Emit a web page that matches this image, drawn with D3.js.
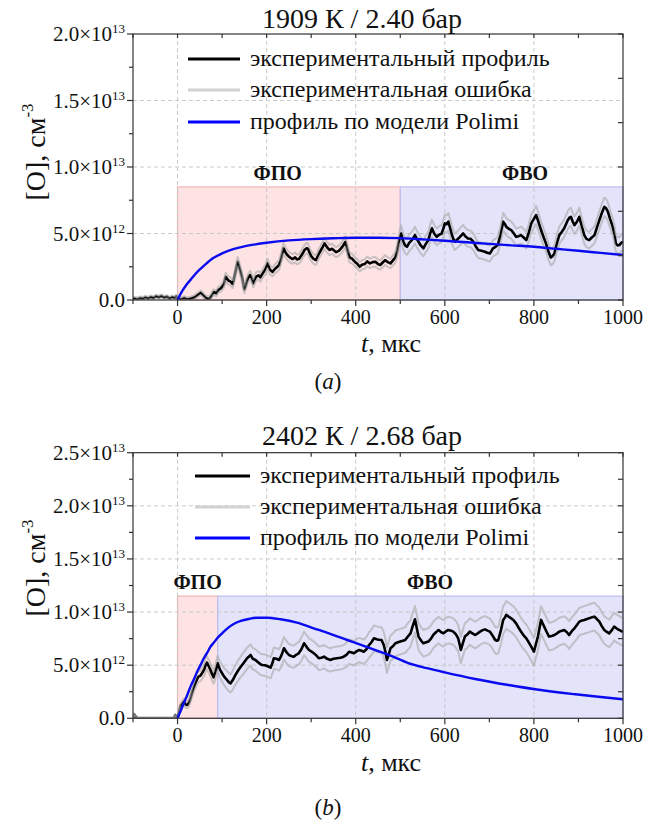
<!DOCTYPE html>
<html>
<head>
<meta charset="utf-8">
<script src="https://cdn.jsdelivr.net/npm/d3@7"></script>
<style>
  body { margin: 0; background: #fff; }
  svg { display: block; }
  text { font-family: "Liberation Serif", "Times New Roman", serif; fill: #111; }
</style>
</head>
<body>
<svg id="fig" width="662" height="822"></svg>
<script>
// ---- Data: [O] in units of 1e12 cm^-3, time in µs ----
// Experimental profile rows: [time, value, error half-width]
const profileA = [
  [-100,0.12,0.12],[-95,0.1,0.12],[-90,0.05,0.12],[-84,0.15,0.12],[-78,0.1,0.12],[-72,0.2,0.12],[-66,0.12,0.12],
  [-60,0.22,0.12],[-54,0.15,0.12],[-48,0.28,0.12],[-42,0.2,0.12],[-36,0.3,0.12],[-30,0.18,0.12],[-24,0.25,0.12],
  [-18,0.12,0.12],[-12,0.22,0.12],[-6,0.15,0.12],[-3,0.28,0.12],[0,0.1,0.12],[8,0.05,0.13],[15,0.15,0.13],
  [22,0.05,0.13],[30,0.12,0.14],[38,0.2,0.15],[45,0.38,0.16],[52,0.55,0.17],[58,0.35,0.17],[64,0.15,0.17],
  [70,0.05,0.18],[76,0.3,0.2],[81,0.6,0.2],[87,0.5,0.22],[91,0.75,0.22],[98,0.9,0.25],[104,1.2,0.27],
  [108,1.75,0.3],[113,1.5,0.3],[119,1.38,0.3],[124,1.2,0.3],[130,2.1,0.32],[135,2.88,0.35],[140,2.3,0.35],
  [145,1.7,0.33],[150,0.8,0.3],[154,1.2,0.3],[158,1.63,0.3],[163,1.88,0.32],[167,1.6,0.32],[170,1.25,0.3],
  [176,1.75,0.32],[182,1.85,0.32],[186,1.7,0.32],[191,2.0,0.33],[197,2.3,0.34],[202,2.75,0.35],[207,2.3,0.34],
  [213,2.12,0.33],[219,2.35,0.34],[224,2.5,0.35],[228,2.63,0.35],[233,3.2,0.37],[238,3.88,0.4],[242,3.6,0.38],
  [246,3.4,0.37],[252,3.2,0.36],[258,3.08,0.36],[264,3.2,0.36],[268,3.05,0.36],[273,3.1,0.36],[279,3.4,0.37],
  [285,3.76,0.38],[290,3.9,0.4],[293,3.85,0.4],[297,3.5,0.38],[300,3.3,0.37],[305,3.1,0.36],[311,3.0,0.36],
  [316,3.4,0.37],[322,3.76,0.38],[326,4.0,0.4],[330,4.26,0.42],[335,4.0,0.4],[341,3.76,0.38],[347,3.85,0.38],
  [352,3.7,0.38],[356,3.6,0.37],[362,3.7,0.38],[367,3.88,0.38],[372,4.1,0.4],[377,4.38,0.42],[381,3.8,0.4],
  [386,3.2,0.37],[392,3.1,0.36],[398,2.88,0.35],[404,2.7,0.35],[409,2.5,0.34],[414,2.65,0.35],[420,2.7,0.35],
  [426,2.9,0.36],[432,2.75,0.35],[438,2.85,0.36],[444,2.88,0.36],[450,2.7,0.35],[455,2.63,0.35],[460,2.8,0.36],
  [466,3.0,0.37],[472,2.85,0.36],[478,2.75,0.36],[484,3.0,0.37],[489,3.2,0.4],[493,3.7,0.45],[496,4.26,0.5],
  [499,4.7,0.55],[502,5.0,0.6],[505,4.6,0.6],[507,4.38,0.6],[511,4.1,0.6],[515,4.0,0.6],[520,4.3,0.62],
  [526,4.5,0.62],[530,4.7,0.62],[533,4.88,0.63],[537,4.6,0.62],[541,4.38,0.62],[546,4.1,0.6],[552,3.88,0.6],
  [557,4.2,0.62],[563,4.5,0.62],[567,5.0,0.64],[571,5.39,0.65],[576,5.0,0.64],[582,4.75,0.63],[587,4.9,0.64],
  [593,5.0,0.64],[597,5.4,0.65],[600,5.76,0.66],[604,5.7,0.66],[608,5.89,0.66],[612,5.4,0.65],[615,5.0,0.64],
  [619,4.6,0.63],[622,4.38,0.62],[628,4.55,0.62],[634,4.75,0.63],[638,4.9,0.64],[641,5.0,0.64],[646,4.8,0.63],
  [652,4.63,0.63],[658,4.6,0.62],[664,4.38,0.62],[670,4.0,0.6],[675,3.76,0.6],[682,3.7,0.6],[690,3.63,0.6],
  [695,3.55,0.6],[701,3.5,0.6],[705,3.7,0.6],[708,3.88,0.6],[714,4.0,0.6],[719,4.13,0.62],[725,4.9,0.64],
  [731,5.89,0.66],[735,5.7,0.66],[738,5.5,0.65],[744,5.35,0.65],[749,5.26,0.65],[755,5.0,0.64],[760,4.75,0.63],
  [766,4.8,0.63],[771,4.88,0.64],[777,4.7,0.63],[783,4.5,0.62],[788,5.0,0.64],[794,5.76,0.66],[800,6.1,0.67],
  [805,6.39,0.68],[810,5.9,0.67],[816,5.26,0.65],[822,4.7,0.63],[827,4.26,0.62],[833,3.6,0.6],[838,3.2,0.6],
  [842,3.3,0.6],[846,3.5,0.6],[851,4.2,0.62],[857,4.88,0.64],[862,5.1,0.64],[868,5.39,0.65],[872,5.7,0.66],
  [876,6.0,0.67],[880,6.2,0.67],[883,6.26,0.68],[887,5.9,0.67],[891,5.63,0.66],[897,5.9,0.67],[902,6.26,0.68],
  [907,5.6,0.66],[913,4.88,0.64],[918,4.6,0.63],[924,4.5,0.62],[930,4.7,0.63],[936,4.88,0.64],[941,5.4,0.65],
  [947,6.0,0.67],[952,6.5,0.68],[958,7.0,0.7],[962,6.9,0.7],[966,6.64,0.69],[971,6.1,0.67],[977,5.5,0.65],
  [981,4.9,0.64],[984,4.26,0.62],[988,4.1,0.62],[992,4.13,0.62],[996,4.3,0.62],[1000,4.38,0.62]
];
const profileB = [
  [-100,0.0,0.1],[-97,0.35,0.1],[-94,0.15,0.1],[-90,0.0,0.1],[-70,0.0,0.1],[-50,0.0,0.1],[-30,0.0,0.1],
  [-8,0.0,0.1],[-5,0.3,0.1],[-2,0.1,0.1],[0,0.0,0.15],[3,0.5,0.2],[7,1.2,0.25],[10,1.3,0.3],[14,1.57,0.3],
  [18,1.3,0.3],[22,1.25,0.3],[26,1.5,0.35],[29,1.88,0.35],[34,2.6,0.4],[40,3.29,0.45],[44,3.7,0.5],
  [47,3.92,0.5],[51,4.0,0.5],[55,4.24,0.55],[60,4.6,0.55],[63,5.0,0.6],[66,5.24,0.6],[70,4.9,0.6],
  [74,4.55,0.6],[78,4.1,0.6],[81,3.86,0.6],[85,4.4,0.65],[90,5.18,0.7],[95,4.6,0.75],[100,4.24,0.8],
  [105,3.9,0.8],[111,3.61,0.85],[115,3.4,0.85],[119,3.29,0.85],[124,3.6,0.9],[130,4.08,0.9],[136,4.5,0.95],
  [141,4.8,0.95],[145,5.02,1.0],[150,5.3,1.0],[156,5.65,1.0],[160,5.8,1.0],[164,5.96,1.0],[169,5.6,1.0],
  [175,5.49,1.0],[180,5.3,1.0],[186,5.1,1.0],[190,5.02,1.0],[196,5.0,1.0],[201,4.92,1.0],[205,4.85,1.0],
  [209,4.77,1.0],[213,5.2,1.0],[216,5.65,1.0],[222,5.6,1.0],[228,5.49,1.0],[233,5.9,1.05],[239,6.59,1.05],
  [245,6.2,1.05],[250,5.96,1.05],[256,5.85,1.05],[261,5.8,1.05],[267,6.0,1.05],[272,6.12,1.05],[278,6.5,1.1],
  [284,7.06,1.1],[290,6.7,1.1],[295,6.43,1.1],[300,6.3,1.1],[306,6.12,1.1],[312,5.9,1.1],[317,5.65,1.1],
  [323,5.7,1.1],[329,5.8,1.1],[336,5.6,1.1],[343,5.49,1.1],[350,5.6,1.1],[358,5.65,1.1],[366,5.7,1.1],
  [373,5.8,1.1],[380,6.0,1.15],[385,6.27,1.15],[391,6.2,1.15],[396,6.12,1.15],[402,6.3,1.15],[407,6.43,1.15],
  [413,6.35,1.15],[418,6.27,1.15],[424,6.5,1.15],[430,6.9,1.2],[436,7.2,1.2],[441,7.53,1.2],[447,7.45,1.2],
  [452,7.4,1.2],[458,7.37,1.2],[463,6.9,1.2],[467,6.2,1.2],[470,5.49,1.2],[474,6.0,1.2],[478,6.59,1.2],
  [484,6.8,1.2],[489,7.06,1.2],[495,7.15,1.2],[500,7.22,1.2],[506,7.3,1.2],[511,7.37,1.2],[517,7.7,1.25],
  [523,8.0,1.25],[528,8.7,1.25],[533,9.32,1.25],[537,8.5,1.25],[541,7.69,1.25],[547,7.3,1.25],[552,7.06,1.25],
  [558,7.15,1.25],[563,7.22,1.25],[569,7.5,1.25],[574,7.84,1.25],[580,8.1,1.25],[586,8.31,1.25],[592,8.1,1.25],
  [597,8.0,1.25],[603,8.2,1.25],[608,8.31,1.25],[614,8.25,1.25],[619,8.16,1.25],[625,7.9,1.25],[630,7.53,1.25],
  [633,7.0,1.25],[636,6.43,1.25],[640,7.0,1.25],[645,7.69,1.25],[651,7.9,1.25],[656,8.16,1.25],[662,8.0,1.25],
  [668,7.84,1.25],[674,8.0,1.25],[679,8.16,1.25],[685,8.3,1.25],[690,8.37,1.25],[696,8.25,1.25],[701,8.16,1.25],
  [707,7.8,1.25],[713,7.37,1.25],[717,7.3,1.25],[720,7.37,1.25],[726,8.3,1.3],[731,9.26,1.3],[735,9.5,1.3],
  [738,9.73,1.3],[744,9.55,1.3],[749,9.41,1.3],[755,9.2,1.3],[760,8.94,1.3],[766,8.5,1.3],[771,8.16,1.3],
  [777,7.8,1.3],[783,7.53,1.3],[789,7.1,1.3],[794,6.74,1.3],[800,6.27,1.3],[804,6.9,1.3],[809,7.69,1.3],
  [813,8.6,1.3],[816,9.26,1.3],[820,8.9,1.3],[823,8.63,1.3],[829,8.1,1.3],[834,7.69,1.3],[840,7.75,1.3],
  [846,7.84,1.3],[852,8.0,1.3],[857,8.16,1.3],[863,8.25,1.3],[868,8.31,1.3],[874,8.1,1.3],[879,7.84,1.3],
  [885,8.2,1.3],[891,8.47,1.3],[897,8.8,1.3],[902,9.1,1.3],[908,9.2,1.3],[913,9.26,1.3],[919,9.35,1.3],
  [924,9.41,1.3],[930,9.5,1.3],[936,9.57,1.3],[941,9.35,1.3],[947,9.1,1.3],[952,8.7,1.3],[958,8.31,1.3],
  [963,8.15,1.3],[969,8.0,1.3],[975,8.3,1.3],[980,8.63,1.3],[986,8.45,1.3],[992,8.31,1.3],[996,8.2,1.3],
  [1000,8.16,1.3]
];
// Polimi model profiles: [time, value]
const modelA = [
  [0,0],[5,0.35],[10,0.65],[20,1.15],[30,1.55],[40,1.95],[50,2.3],[60,2.6],[80,3.15],[100,3.5],
  [125,3.82],[150,4.03],[175,4.18],[200,4.3],[250,4.48],[300,4.58],[350,4.64],[400,4.68],[450,4.68],
  [500,4.65],[550,4.56],[600,4.46],[650,4.34],[700,4.22],[750,4.11],[800,4.0],[850,3.85],[900,3.7],
  [950,3.54],[1000,3.38]
];
const modelB = [
  [0,0],[5,0.5],[14,1.41],[20,2.0],[29,2.98],[37,3.7],[44,4.39],[52,5.05],[59,5.65],[67,6.2],[74,6.74],
  [82,7.15],[89,7.53],[100,8.0],[112,8.47],[125,8.85],[142,9.16],[160,9.35],[179,9.47],[201,9.47],
  [231,9.32],[268,9.0],[306,8.47],[343,7.95],[381,7.37],[418,6.82],[452,6.3],[481,5.85],[518,5.2],
  [560,4.72],[600,4.32],[668,3.7],[743,3.13],[803,2.73],[893,2.26],[950,2.0],[1000,1.79]
];
// Kinetic zones: [label, from, to, height, label position]
const zonesA = [["ФПО", 0, 500, 8.5, 225], ["ФВО", 500, 1000, 8.5, 780]];
const zonesB = [["ФПО", 0, 90, 11.5, 45], ["ФВО", 90, 1000, 11.5, 567]];
const titles = ["1909 К / 2.40 бар", "2402 К / 2.68 бар"];
const captions = ["a", "b"];
const legendLabels = ["экспериментальный профиль", "экспериментальная ошибка", "профиль по модели Polimi"];
const xTicks = [0, 200, 400, 600, 800, 1000];
const yTicksA = [0, 5, 10, 15, 20];
const yTicksB = [0, 5, 10, 15, 20, 25];

// ---- Layout ----
const svg = d3.select("#fig");
const zoneStyle = {
  "ФПО": { fill: "#fde3e3", stroke: "#f3b6b6" },
  "ФВО": { fill: "#e3e3f9", stroke: "#bcbcf0" }
};
const legendColors = ["#000000", "#d2d2d2", "#0000ff"];

const panels = [
  { top: 34, bottom: 300, yMax: 20, profile: profileA, model: modelA, zones: zonesA, yTicks: yTicksA,
    rightTickStep: 20 / 6, title: titles[0], titleY: 28, legendY: [59, 90, 122], legendX: 188, legendLen: 52,
    xLabelY: 352, yLabelCenter: 152, caption: captions[0], captionY: 389 },
  { top: 452.7, bottom: 718.3, yMax: 25, profile: profileB, model: modelB, zones: zonesB, yTicks: yTicksB,
    rightTickStep: 2.5, title: titles[1], titleY: 445, legendY: [476, 507, 538], legendX: 195, legendLen: 55,
    xLabelY: 771, yLabelCenter: 568, caption: captions[1], captionY: 815 }
];

const left = 133, right = 623;

function sciParts(v) {
  if (v === 0) return ["0.0", ""];
  const real = v * 1e12;
  const e = Math.floor(Math.log10(real) + 1e-9);
  return [(real / Math.pow(10, e)).toFixed(1) + "×10", String(e)];
}

panels.forEach((p, i) => {
  const g = svg.append("g");
  const x = d3.scaleLinear().domain([-100, 1000]).range([left, right]);
  const y = d3.scaleLinear().domain([0, p.yMax]).range([p.bottom, p.top]);
  const clipId = "clip" + i;
  g.append("clipPath").attr("id", clipId).append("rect")
    .attr("x", left).attr("y", p.top).attr("width", right - left).attr("height", p.bottom - p.top);

  // shaded zones
  g.selectAll("rect.zone").data(p.zones).join("rect").attr("class", "zone")
    .attr("x", d => x(d[1])).attr("y", d => y(d[3]))
    .attr("width", d => x(d[2]) - x(d[1])).attr("height", d => y(0) - y(d[3]))
    .attr("fill", d => zoneStyle[d[0]].fill).attr("stroke", d => zoneStyle[d[0]].stroke).attr("stroke-width", 1.2);

  // grid
  const grid = g.append("g").attr("stroke", "#c4c4c4").attr("stroke-width", 0.9).attr("stroke-dasharray", "4,3");
  grid.selectAll("line.vx").data(xTicks.filter(t => t < 1000)).join("line")
    .attr("x1", d => x(d)).attr("x2", d => x(d)).attr("y1", p.top).attr("y2", p.bottom);
  grid.selectAll("line.hy").data(p.yTicks.filter(t => t > 0 && t < p.yMax)).join("line")
    .attr("y1", d => y(d)).attr("y2", d => y(d)).attr("x1", left).attr("x2", right);

  // zone labels
  g.selectAll("text.zl").data(p.zones).join("text")
    .attr("x", d => x(d[4])).attr("y", d => y(d[3]) - 7)
    .attr("text-anchor", "middle").attr("font-weight", "bold").attr("font-size", 20)
    .text(d => d[0]);

  const plot = g.append("g").attr("clip-path", `url(#${clipId})`);
  const lineMain = d3.line().x(d => x(d[0])).y(d => y(d[1]));
  const lineUp = d3.line().x(d => x(d[0])).y(d => y(d[1] + d[2]));
  const lineDn = d3.line().x(d => x(d[0])).y(d => y(Math.max(0, d[1] - d[2])));
  plot.append("path").datum(p.profile).attr("d", lineMain)
    .attr("fill", "none").attr("stroke", "#000").attr("stroke-width", 2.6).attr("stroke-linejoin", "round");
  [lineUp, lineDn].forEach(l => plot.append("path").datum(p.profile).attr("d", l)
    .attr("fill", "none").attr("stroke", "#a6a6a6").attr("stroke-opacity", 0.6).attr("stroke-width", 2)
    .attr("stroke-linejoin", "round"));
  plot.append("path").datum(p.model)
    .attr("d", d3.line().x(d => x(d[0])).y(d => y(d[1])).curve(d3.curveMonotoneX))
    .attr("fill", "none").attr("stroke", "#0a0af0").attr("stroke-width", 2.4);

  // frame
  const axisColor = "#333";
  g.append("rect").attr("x", left).attr("y", p.top).attr("width", right - left).attr("height", p.bottom - p.top)
    .attr("fill", "none").attr("stroke", axisColor).attr("stroke-width", 1.2);

  // bottom axis ticks (outward) and top ticks (inward)
  const minorX = d3.range(-100, 1001, 100);
  g.selectAll("line.bx").data(minorX).join("line")
    .attr("x1", d => x(d)).attr("x2", d => x(d)).attr("y1", p.bottom)
    .attr("y2", d => p.bottom + (xTicks.includes(d) ? 6 : 4)).attr("stroke", axisColor).attr("stroke-width", 1.2);
  g.selectAll("line.tx").data(minorX).join("line")
    .attr("x1", d => x(d)).attr("x2", d => x(d)).attr("y1", p.top)
    .attr("y2", p.top + 4).attr("stroke", axisColor).attr("stroke-width", 1.2);
  g.selectAll("text.xl").data(xTicks).join("text")
    .attr("x", d => x(d)).attr("y", p.bottom + 24).attr("text-anchor", "middle").attr("font-size", 20)
    .text(d => d);

  // left axis
  const minorY = d3.range(0, p.yMax + 0.01, 2.5);
  g.selectAll("line.ly").data(minorY).join("line")
    .attr("y1", d => y(d)).attr("y2", d => y(d)).attr("x1", left)
    .attr("x2", d => left - (p.yTicks.includes(d) ? 6 : 4)).attr("stroke", axisColor).attr("stroke-width", 1.2);
  const yl = g.selectAll("text.yl").data(p.yTicks).join("text")
    .attr("x", 125).attr("y", d => y(d) + 7).attr("text-anchor", "end").attr("font-size", 21);
  yl.append("tspan").text(d => sciParts(d)[0]);
  yl.append("tspan").attr("font-size", 13).attr("dy", -8).text(d => sciParts(d)[1]);

  // right axis ticks (inward)
  const rt = d3.range(0, p.yMax + 0.01, p.rightTickStep);
  g.selectAll("line.ry").data(rt).join("line")
    .attr("y1", d => y(d)).attr("y2", d => y(d)).attr("x1", right).attr("x2", right - 5)
    .attr("stroke", axisColor).attr("stroke-width", 1.2);

  // title
  g.append("text").attr("x", 362).attr("y", p.titleY).attr("text-anchor", "middle").attr("font-size", 28)
    .text(p.title);

  // legend
  const lg = g.append("g");
  legendLabels.forEach((lab, k) => {
    lg.append("line").attr("x1", p.legendX).attr("x2", p.legendX + p.legendLen)
      .attr("y1", p.legendY[k]).attr("y2", p.legendY[k])
      .attr("stroke", legendColors[k]).attr("stroke-width", 3);
    lg.append("text").attr("x", p.legendX + p.legendLen + 10).attr("y", p.legendY[k] + 7)
      .attr("font-size", 24).text(lab);
  });

  // axis titles
  const xt = g.append("text").attr("x", 391).attr("y", p.xLabelY).attr("text-anchor", "middle").attr("font-size", 26);
  xt.append("tspan").attr("font-style", "italic").text("t");
  xt.append("tspan").text(", мкс");

  const ytl = g.append("text").attr("transform", `translate(45,${p.yLabelCenter}) rotate(-90)`)
    .attr("text-anchor", "middle").attr("font-size", 28);
  ytl.append("tspan").text("[O], см");
  ytl.append("tspan").attr("font-size", 17).attr("dy", -12).text("-3");

  // caption
  const cap = g.append("text").attr("x", 328).attr("y", p.captionY).attr("text-anchor", "middle").attr("font-size", 23);
  cap.append("tspan").text("(");
  cap.append("tspan").attr("font-style", "italic").text(p.caption);
  cap.append("tspan").text(")");
});
</script>
</body>
</html>
